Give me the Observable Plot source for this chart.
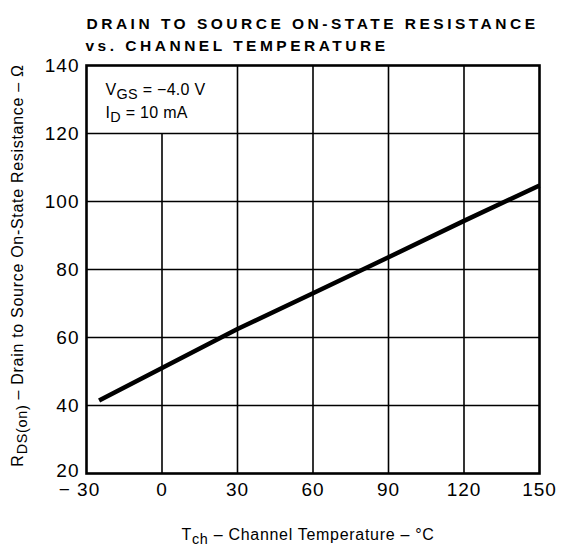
<!DOCTYPE html>
<html>
<head>
<meta charset="utf-8">
<script src="https://cdn.jsdelivr.net/npm/d3@7"></script>
<script src="https://cdn.jsdelivr.net/npm/@observablehq/plot@0.6"></script>
<style>
  html, body { margin: 0; padding: 0; background: #fff; }
  #chart svg { display: block; }
</style>
</head>
<body>
<div id="chart"></div>
<script>
// Data
const temps = [-25, 0, 30, 60, 90, 120, 150];          // °C
const rdsOn = [41.5, 51, 62.5, 73, 83.6, 94.3, 104.7];  // Ω

const xTicks = [-30, 0, 30, 60, 90, 120, 150];
const yTicks = [20, 40, 60, 80, 100, 120, 140];

// Grid lines (the top-left cell is merged into the condition box)
const gridX = [0, 30, 60, 90, 120];
const gridXTop = [120, 140, 140, 140, 140];
const gridY = [40, 60, 80, 100, 120];

const titleLines = ["DRAIN TO SOURCE ON-STATE RESISTANCE", "vs. CHANNEL TEMPERATURE"];
const conditions = ["V_{GS} = −4.0 V", "I_{D} = 10 mA"];
const xLabel = "T_{ch} – Channel Temperature – °C";
const yLabel = "R_{DS(on)} – Drain to Source On-State Resistance – Ω";

const curve = temps.map((t, i) => ({t, r: rdsOn[i]}));
const vGrid = gridX.map((x, i) => ({x, y1: 20, y2: gridXTop[i]}));
const fmtX = d => d < 0 ? "\u2212 " + (-d) : String(d);

const chart = Plot.plot({
  width: 564,
  height: 553,
  marginTop: 65,
  marginLeft: 86,
  marginRight: 25,
  marginBottom: 80,
  style: {fontFamily: "'Liberation Sans', Arial, sans-serif", fontSize: "18px", background: "#fff", color: "#000"},
  x: {domain: [-30, 150], label: null},
  y: {domain: [20, 140], label: null},
  marks: [
    Plot.ruleX(vGrid, {x: "x", y1: "y1", y2: "y2", stroke: "#000", strokeWidth: 1.6}),
    Plot.ruleY(gridY, {stroke: "#000", strokeWidth: 1.6}),
    Plot.frame({stroke: "#000", strokeWidth: 2.6}),
    Plot.axisX({ticks: xTicks, tickSize: 0, tickPadding: 9, tickFormat: fmtX, label: null}),
    Plot.axisY({ticks: yTicks, tickSize: 0, tickPadding: 7, label: null}),
    Plot.line(curve, {x: "t", y: "r", stroke: "#000", strokeWidth: 4.5, strokeLinecap: "butt"}),
    // condition box text
    Plot.text([conditions[0]], {frameAnchor: "top-left", dx: 19, dy: 18, textAnchor: "start", fontSize: 16, text: d => d}),
    Plot.text([conditions[1]], {frameAnchor: "top-left", dx: 19, dy: 41, textAnchor: "start", fontSize: 16, text: d => d}),
    // title
    Plot.text([titleLines[0]], {frameAnchor: "top-left", dx: 0, dy: -48, textAnchor: "start", fontSize: 15.5, fontWeight: 600, text: d => d}),
    Plot.text([titleLines[1]], {frameAnchor: "top-left", dx: -1, dy: -26, textAnchor: "start", fontSize: 15.5, fontWeight: 600, text: d => d}),
    // axis labels
    Plot.text([xLabel], {frameAnchor: "bottom", dx: -5, dy: 66, fontSize: 16, text: d => d}),
    Plot.text([yLabel], {frameAnchor: "left", dx: -69, dy: -4, rotate: -90, textAnchor: "middle", fontSize: 16, text: d => d})
  ]
});

// tick label size and small offsets as in the reference
const xTickText = new Set(xTicks.map(fmtX));
const yTickText = new Set(yTicks.map(String));
const svg = d3.select(chart);
svg.selectAll("g[aria-label^='x-axis'] text").filter(function() { return xTickText.has(this.textContent); })
  .style("font-size", "19px").style("letter-spacing", "1px")
  .filter(function() { return this.textContent.startsWith("\u2212"); })
  .attr("dx", -7);
svg.selectAll("g[aria-label^='y-axis'] text").filter(function() { return yTickText.has(this.textContent); })
  .style("font-size", "19px").style("letter-spacing", "1px")
  .filter(function() { return this.textContent === String(yTicks[0]); })
  .attr("dy", "-0.12em");

// subscripts: convert "_{...}" markup into tspans
svg.selectAll("text").each(function() {
  const el = this;
  const s = el.textContent;
  if (!s.includes("_{")) return;
  const parts = s.split(/_\{([^}]*)\}/);
  while (el.firstChild) el.removeChild(el.firstChild);
  const fs = parseFloat(el.getAttribute("font-size")) || parseFloat(el.parentNode.getAttribute("font-size")) || 15;
  let shifted = 0;
  parts.forEach((p, i) => {
    if (p === "") return;
    const ts = document.createElementNS("http://www.w3.org/2000/svg", "tspan");
    ts.textContent = p;
    if (i % 2 === 1) {
      ts.setAttribute("dy", (0.28 * fs).toFixed(1));
      ts.setAttribute("font-size", (0.9 * fs).toFixed(1));
      shifted = 0.28 * fs;
    } else if (shifted) {
      ts.setAttribute("dy", (-shifted).toFixed(1));
      shifted = 0;
    }
    el.appendChild(ts);
  });
});

// letter spacing
const plain = s => s.replace(/_\{([^}]*)\}/g, "$1");
svg.selectAll("text").filter(function() {
  return titleLines.includes(this.textContent);
}).style("letter-spacing", "3.5px");
svg.selectAll("text").filter(function() {
  return this.textContent === plain(xLabel) || this.textContent === plain(yLabel);
}).style("letter-spacing", "0.7px");
svg.selectAll("text").filter(function() {
  return conditions.map(plain).includes(this.textContent);
}).style("letter-spacing", "0.3px");

document.getElementById("chart").appendChild(chart);
</script>
</body>
</html>
